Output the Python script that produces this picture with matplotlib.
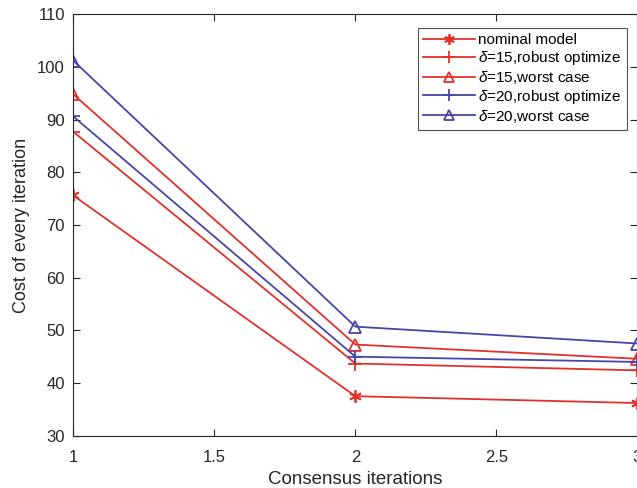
import matplotlib
matplotlib.use('Agg')
import matplotlib.pyplot as plt

plt.rcParams['font.family'] = ['Liberation Sans', 'DejaVu Sans']
plt.rcParams['mathtext.fontset'] = 'custom'
plt.rcParams['mathtext.rm'] = 'Liberation Sans'
plt.rcParams['mathtext.it'] = 'Liberation Sans:italic'

iters = [1, 2, 3]
nominal = [75.6, 37.5, 36.2]
robust15 = [87.7, 43.7, 42.4]
worst15 = [94.8, 47.3, 44.6]
robust20 = [90.6, 45.0, 44.0]
worst20 = [101.2, 50.7, 47.5]

xticks = [1, 1.5, 2, 2.5, 3]
yticks = list(range(30, 111, 10))

red = '#e3302b'
blue = '#4646a8'
dark = '#262626'

fig = plt.figure(figsize=(6.37, 4.88), dpi=100)
ax = fig.add_axes([0.1151, 0.1072, 0.8855, 0.8635])

ax.plot(iters, nominal, color=red, lw=1.3, marker=(6, 2, 0), ms=9, mew=1.3,
        label='nominal model')
ax.plot(iters, robust15, color=red, lw=1.3, marker='+', ms=10, mew=1.3,
        label=r'$\delta$=15,robust optimize')
ax.plot(iters, worst15, color=red, lw=1.3, marker='^', ms=9, mew=1.3, mfc='none',
        label=r'$\delta$=15,worst case')
ax.plot(iters, robust20, color=blue, lw=1.3, marker='+', ms=10, mew=1.3,
        label=r'$\delta$=20,robust optimize')
ax.plot(iters, worst20, color=blue, lw=1.3, marker='^', ms=9, mew=1.3, mfc='none',
        label=r'$\delta$=20,worst case')

ax.set_xlim(1, 3)
ax.set_ylim(30, 110)
ax.set_xticks(xticks)
ax.set_xticklabels(['1', '1.5', '2', '2.5', '3'])
ax.set_yticks(yticks)
ax.tick_params(direction='in', top=True, right=True, length=5, width=0.8,
               colors=dark, labelsize=12)
ax.tick_params(axis='x', pad=10)
ax.tick_params(axis='y', pad=6)
for s in ax.spines.values():
    s.set_color(dark)
    s.set_linewidth(0.8)

ax.set_xlabel('Consensus iterations', fontsize=13.5, color=dark, labelpad=4.5)
ax.set_ylabel('Cost of every iteration', fontsize=13, color=dark, labelpad=5)

leg = ax.legend(loc='upper right', bbox_to_anchor=(0.9817, 0.9675), fontsize=11,
                frameon=True, fancybox=False, edgecolor=dark, handlelength=3.4,
                handletextpad=0.2, borderpad=0.35, labelspacing=0.12,
                borderaxespad=0, markerscale=0.85)
leg.get_frame().set_linewidth(0.8)

fig.savefig('out.png', dpi=100)
